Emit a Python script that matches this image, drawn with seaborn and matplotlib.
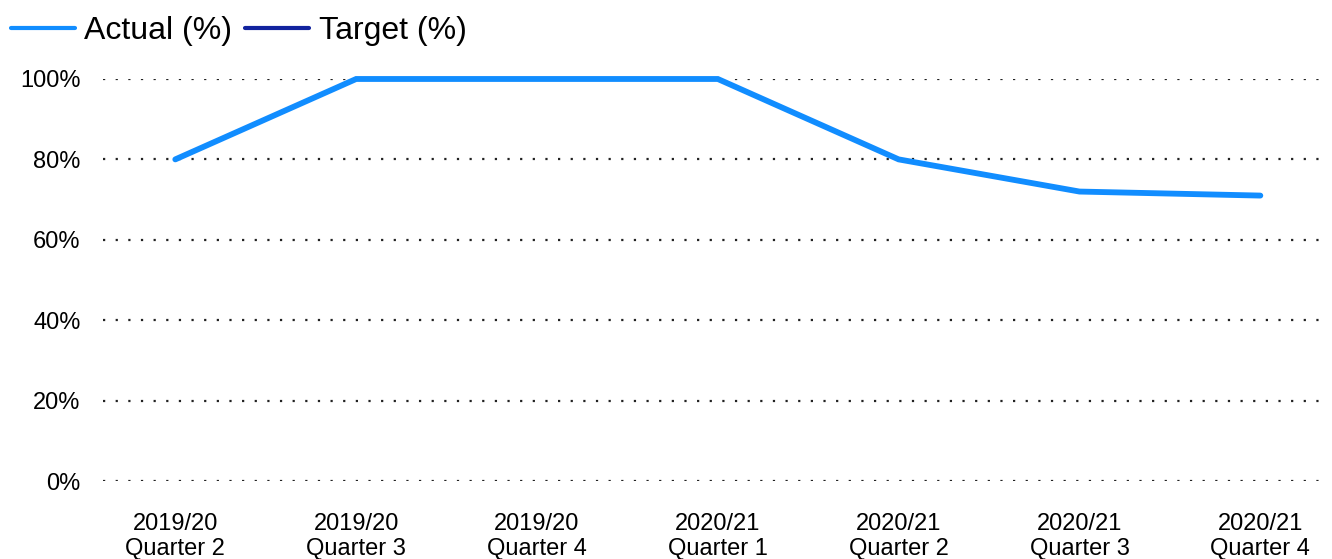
import numpy as np
import pandas as pd
import matplotlib
matplotlib.use("Agg")
import matplotlib.pyplot as plt
from matplotlib.lines import Line2D
import seaborn as sns

quarters = ["2019/20\nQuarter 2", "2019/20\nQuarter 3", "2019/20\nQuarter 4",
            "2020/21\nQuarter 1", "2020/21\nQuarter 2", "2020/21\nQuarter 3",
            "2020/21\nQuarter 4"]
actual_pct = [80, 100, 100, 100, 80, 72, 71]
target_pct = [np.nan] * 7
y_ticks = [0, 20, 40, 60, 80, 100]

sns.set_theme(style="white")
plt.rcParams["font.family"] = ["Liberation Sans", "DejaVu Sans"]
plt.rcParams["lines.scale_dashes"] = False

df = pd.DataFrame({"pos": range(len(quarters)), "actual": actual_pct, "target": target_pct})

fig = plt.figure(figsize=(13.32, 5.59), dpi=100)
ax = fig.add_axes([0.0773, 0.1395, 0.9137, 0.7192])

actual_col = "#118DFF"
target_col = "#12239E"

sns.lineplot(data=df, x="pos", y="actual", ax=ax, color=actual_col, linewidth=4.2,
             solid_capstyle="round", solid_joinstyle="miter", clip_on=False, legend=False)

ax.set_xlim(-0.4, 6.33)
ax.set_ylim(0, 100)
ax.set_yticks(y_ticks)
ax.set_yticklabels([f"{v}%" for v in y_ticks], fontsize=17)
ax.set_xticks(range(len(quarters)))
ax.set_xticklabels(quarters, fontsize=17, linespacing=1.15)
ax.tick_params(axis="y", length=0, pad=16, colors="black")
ax.tick_params(axis="x", length=0, pad=23, colors="black")
ax.set_xlabel("")
ax.set_ylabel("")

# dotted gridlines, roughly 12-13 px between dots
for v in y_ticks:
    ax.axhline(v, color="#222222", linewidth=1.6, linestyle=(0, (1.6, 7.5)), zorder=0)

for s in ax.spines.values():
    s.set_visible(False)

handles = [Line2D([0], [0], color=actual_col, linewidth=3),
           Line2D([0], [0], color=target_col, linewidth=3)]
leg = fig.legend(handles, ["Actual (%)", "Target (%)"], loc="center left",
                 bbox_to_anchor=(11 / 1332, 0.945), ncol=2, frameon=False, fontsize=23,
                 handlelength=2.0, handletextpad=0.3, columnspacing=0.4,
                 borderpad=0, borderaxespad=0)
for t in leg.get_texts():
    t.set_color("black")

fig.savefig("out.png", dpi=100)
